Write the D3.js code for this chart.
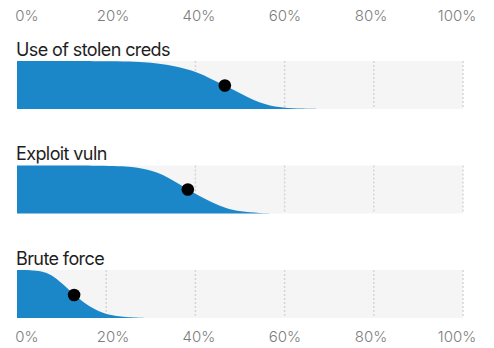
<!DOCTYPE html>
<html>
<head>
<meta charset="utf-8">
<script src="https://cdn.jsdelivr.net/npm/d3@7"></script>
<style>
  body { margin: 0; background: #fff; }
  svg { display: block; font-family: Inter, "Noto Sans", sans-serif; }
</style>
</head>
<body>
<div id="chart"></div>
<script>
(function () {
  // Data: share of items (x, %) vs remaining density (0..1)
  const categories = ["Use of stolen creds", "Exploit vuln", "Brute force"];
  const tickValues = [0, 20, 40, 60, 80, 100];

  const stolenCurve = [
    [0, 1], [23, 1], [30.5, 0.97], [35, 0.9], [39.5, 0.8], [42.6, 0.67],
    [46.6, 0.49], [50, 0.33], [52.9, 0.19], [56.1, 0.08], [59.6, 0.025], [64, 0.006], [68, 0]
  ];
  const exploitCurve = [
    [0, 1], [20, 1], [26, 0.98], [30.5, 0.89], [33.6, 0.77], [38.3, 0.5],
    [41, 0.36], [43.9, 0.22], [47.1, 0.1], [50, 0.04], [54.5, 0.008], [58, 0]
  ];
  const bruteCurve = [
    [0, 1], [3, 1], [5.5, 0.98], [7.8, 0.9], [10, 0.73], [12.8, 0.48],
    [15.2, 0.31], [17.5, 0.17], [20.4, 0.06], [24.2, 0.015], [29.4, 0]
  ];
  const curves = [stolenCurve, exploitCurve, bruteCurve];
  const medians = [[46.6, 0.49], [38.3, 0.5], [12.8, 0.48]];

  const width = 494, height = 348;
  const bandH = 48;

  const x = d3.scaleLinear().domain([0, 100]).range([17, 463]);
  const labelX = d3.scaleLinear().domain([0, 100]).range([27, 457]);
  const rowTop = d3.scaleLinear().domain([0, 2]).range([61, 270]);
  const y = d3.scaleLinear().domain([0, 1]).range([bandH, 0]);

  const svg = d3.select("#chart")
      .append("svg")
      .attr("width", width)
      .attr("height", height);

  // Axis labels, top and bottom
  [21, 342].forEach(base => {
    svg.append("g")
        .selectAll("text")
        .data(tickValues)
        .join("text")
        .attr("x", d => labelX(d))
        .attr("y", base)
        .attr("text-anchor", "middle")
        .style("font-size", "15px")
        .style("font-weight", 300)
        .style("fill", "#7d7d7d")
        .text(d => d + "%");
  });

  const area = d3.area()
      .x(d => x(d[0]))
      .y0(y(0))
      .y1(d => y(d[1]))
      .curve(d3.curveBasis);

  categories.forEach((name, i) => {
    const g = svg.append("g").attr("transform", `translate(0,${rowTop(i)})`);

    g.append("text")
        .attr("x", 16)
        .attr("y", -5.5)
        .style("font-size", "18px")
        .style("letter-spacing", "-0.6px")
        .style("fill", "#1e1e1e")
        .text(name);

    g.append("rect")
        .attr("x", x(0))
        .attr("width", x(100) - x(0))
        .attr("height", bandH)
        .attr("fill", "#f5f5f5");

    g.selectAll(".grid")
        .data(tickValues.slice(1))
        .join("line")
        .attr("class", "grid")
        .attr("x1", d => x(d))
        .attr("x2", d => x(d))
        .attr("y1", 0)
        .attr("y2", bandH)
        .attr("stroke", "#d6d6d6")
        .attr("stroke-width", 1.5)
        .attr("stroke-dasharray", "2,2");

    g.append("path")
        .datum(curves[i])
        .attr("fill", "#1b87c9")
        .attr("d", area);

    g.append("circle")
        .attr("cx", x(medians[i][0]))
        .attr("cy", y(medians[i][1]))
        .attr("r", 6.3)
        .attr("fill", "#000");
  });
})();
</script>
</body>
</html>
